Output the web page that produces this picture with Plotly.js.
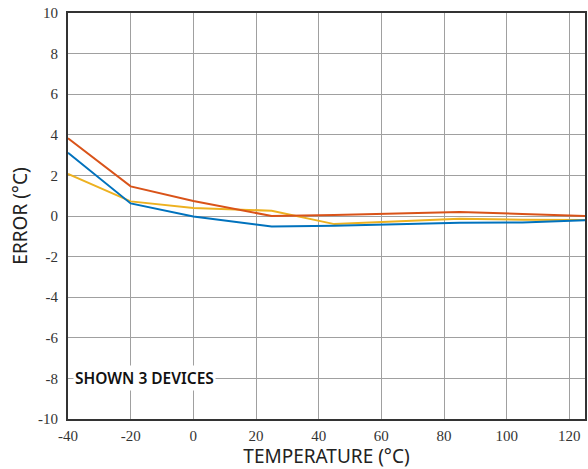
<!DOCTYPE html>
<html>
<head>
<meta charset="utf-8">
<script src="https://cdn.plot.ly/plotly-3.0.1.min.js"></script>
<style>html,body{margin:0;padding:0;background:#fff;}#chart{width:588px;height:469px;}</style>
</head>
<body>
<div id="chart"></div>
<script>
// Temperature points (°C)
const temperature = [-40, -20, 0, 25, 45, 85, 105, 125];
// Error for three devices (°C)
const deviceOrange = [3.83, 1.46, 0.74, 0.0, 0.05, 0.2, 0.1, 0.0];
const deviceBlue   = [3.12, 0.62, -0.02, -0.52, -0.48, -0.33, -0.32, -0.21];
const deviceYellow = [2.07, 0.72, 0.39, 0.26, -0.4, -0.13, -0.18, -0.2];
const xTicks = [-40, -20, 0, 20, 40, 60, 80, 100, 120];
const yTicks = [-10, -8, -6, -4, -2, 0, 2, 4, 6, 8, 10];
const noteText = "SHOWN 3 DEVICES";

const mk = (y, color) => ({
  x: temperature, y: y, type: 'scatter', mode: 'lines',
  line: {color: color, width: 2}, hoverinfo: 'skip'
});

const data = [
  mk(deviceYellow, '#EDB120'),
  mk(deviceBlue, '#0072BD'),
  mk(deviceOrange, '#D95319')
];

const tickFont = {family: 'Liberation Serif', size: 15, color: '#333'};
const titleFont = {family: 'Noto Sans', size: 19, color: '#222'};

const layout = {
  width: 588, height: 469,
  margin: {l: 68, r: 3, t: 13, b: 50},
  paper_bgcolor: '#fff', plot_bgcolor: '#fff',
  showlegend: false,
  xaxis: {
    range: [-40, 125], tickvals: xTicks, ticktext: xTicks.map(String),
    showgrid: true, gridcolor: '#a0a0a0', gridwidth: 1,
    zeroline: false, showline: true, linecolor: '#333', linewidth: 2, mirror: true,
    ticks: '', tickfont: tickFont, ticklabelstandoff: 2,
    title: {text: 'TEMPERATURE (°C)', font: titleFont, standoff: 2}
  },
  yaxis: {
    range: [-10, 10], tickvals: yTicks, ticktext: yTicks.map(String),
    showgrid: true, gridcolor: '#a0a0a0', gridwidth: 1,
    zeroline: false, showline: true, linecolor: '#333', linewidth: 2, mirror: true,
    ticks: '', tickfont: tickFont, ticklabelstandoff: 5,
    title: {text: 'ERROR (°C)', font: titleFont, standoff: 5}
  },
  annotations: [{
    x: -38.5, y: -8, xref: 'x', yref: 'y', xanchor: 'left', yanchor: 'middle',
    text: noteText, showarrow: false, bgcolor: '#fff',
    font: {family: 'Noto Sans', size: 15.5, color: '#111', weight: 600},
    borderpad: 1
  }]
};

Plotly.newPlot('chart', data, layout, {displayModeBar: false, staticPlot: true});
</script>
</body>
</html>
